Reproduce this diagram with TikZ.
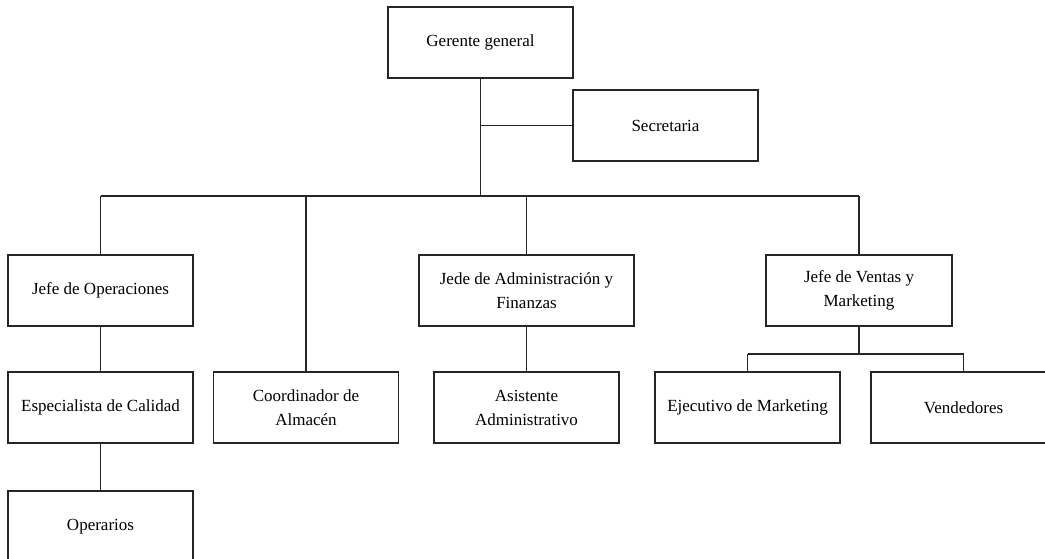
\documentclass[tikz,border=0pt]{standalone}
\usepackage{fontspec}
\setmainfont{Liberation Serif}
\begin{document}
\begin{tikzpicture}[x=1pt,y=-1pt,
  box/.style={draw=black!85,line width=1.5pt,fill=white,minimum width=185pt,minimum height=71pt,
    inner sep=0pt,align=center,font=\fontsize{17}{24}\selectfont},
  conn/.style={draw=black!85,line width=1.5pt}]
\useasboundingbox (0,0) rectangle (1045,559);
\clip (0,0) rectangle (1045,559);
\fill[white] (0,0) rectangle (1045,559);
\node[box] (ger) at (480.5,42.5) {Gerente general};
\node[box] (sec) at (665.5,125.5) {Secretaria};
\node[box] (jop) at (100.5,290.5) {Jefe de Operaciones};
\node[box,minimum width=215pt] (jadm) at (526.5,290.5) {Jede de Administración y\\Finanzas};
\node[box,minimum width=186pt] (jven) at (859,290.5) {Jefe de Ventas y\\Marketing};
\node[box] (esp) at (100.5,407.5) {Especialista de Calidad};
\node[box] (coord) at (306,407.5) {Coordinador de\\Almacén};
\node[box] (asis) at (526.5,407.5) {Asistente\\Administrativo};
\node[box] (ejec) at (747.5,407.5) {Ejecutivo de Marketing};
\node[box] (vend) at (963.5,407.5) {Vendedores};
\node[box,minimum height=72pt,anchor=north] (oper) at (100.5,490) {Operarios};
\coordinate (bus) at (0,196);
\coordinate (sub) at (0,354);
\path[conn] (ger.south) -- (ger.south |- bus);
\path[conn] (ger.south |- sec.west) -- (sec.west);
\path[conn] (jop.north |- bus) -- (jven.north |- bus);
\path[conn] (jop.north |- bus) -- (jop.north);
\path[conn] (coord.north |- bus) -- (coord.north);
\path[conn] (jadm.north |- bus) -- (jadm.north);
\path[conn] (jven.north |- bus) -- (jven.north);
\path[conn] (jop.south) -- (esp.north);
\path[conn] (esp.south) -- (oper.north);
\path[conn] (jadm.south) -- (asis.north);
\path[conn] (jven.south) -- (jven.south |- sub);
\path[conn] (ejec.north |- sub) -- (vend.north |- sub);
\path[conn] (ejec.north |- sub) -- (ejec.north);
\path[conn] (vend.north |- sub) -- (vend.north);
\end{tikzpicture}
\end{document}
